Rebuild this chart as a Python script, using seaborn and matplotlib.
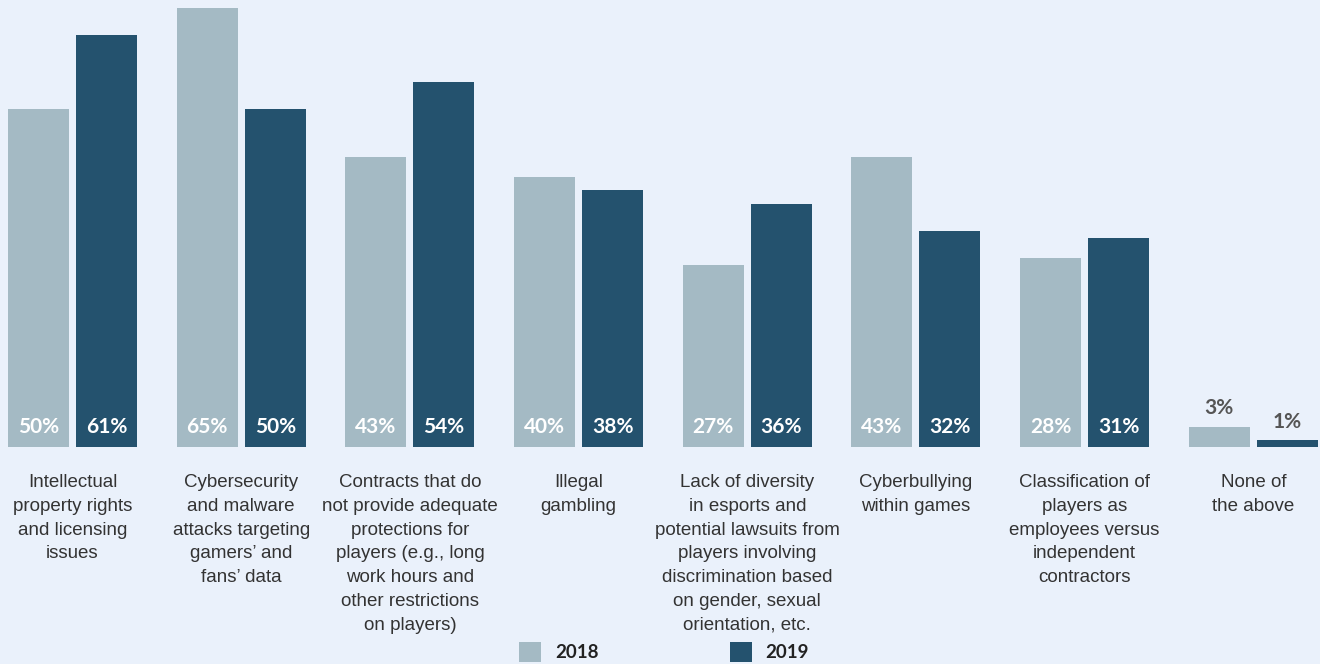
import pandas as pd
import matplotlib.pyplot as plt
import seaborn as sns
from matplotlib.patches import Patch

# Chart data
categories = [
    "Intellectual\nproperty rights\nand licensing\nissues",
    "Cybersecurity\nand malware\nattacks targeting\ngamers’ and\nfans’ data",
    "Contracts that do\nnot provide adequate\nprotections for\nplayers (e.g., long\nwork hours and\nother restrictions\non players)",
    "Illegal\ngambling",
    "Lack of diversity\nin esports and\npotential lawsuits from\nplayers involving\ndiscrimination based\non gender, sexual\norientation, etc.",
    "Cyberbullying\nwithin games",
    "Classification of\nplayers as\nemployees versus\nindependent\ncontractors",
    "None of\nthe above",
]
years = ["2018", "2019"]
values_2018 = [50, 65, 43, 40, 27, 43, 28, 3]
values_2019 = [61, 50, 54, 38, 36, 32, 31, 1]

# Colours
bg = "#EAF1FB"
colors = {"2018": "#A4BAC4", "2019": "#24526E"}
text_color = "#333333"

df = pd.DataFrame({
    "category": categories * 2,
    "year": ["2018"] * len(categories) + ["2019"] * len(categories),
    "value": values_2018 + values_2019,
})

sns.set_style("white")
plt.rcParams["font.family"] = ["Liberation Sans", "DejaVu Sans"]

fig = plt.figure(figsize=(13.2, 6.64), dpi=100, facecolor=bg)
ax = fig.add_axes([0, 1 - 447 / 664, 1, 447 / 664])
ax.set_facecolor(bg)

sns.barplot(data=df, x="category", y="value", hue="year", palette=colors,
            hue_order=years, width=0.806, gap=0.103, saturation=1,
            linewidth=0, edgecolor="none", legend=False, ax=ax)

ax.set_xlim(-0.4298, 7.395)
ax.set_ylim(0, 66.18)
for s in ax.spines.values():
    s.set_visible(False)
ax.set_yticks([])
ax.set_xlabel("")
ax.set_ylabel("")
ax.tick_params(axis="x", length=0, pad=19.5)
for lbl in ax.get_xticklabels():
    lbl.set_fontsize(13.5)
    lbl.set_color(text_color)
    lbl.set_linespacing(1.52)
    lbl.set_verticalalignment("top")

# Value labels
for container, vals in zip(ax.containers, [values_2018, values_2019]):
    for bar, v in zip(container, vals):
        cx = bar.get_x() + bar.get_width() / 2
        if v >= 10:
            ax.text(cx, 3.0, f"{v}%", ha="center", va="center", color="white",
                    fontsize=15, fontweight="bold", family=["Lato", "DejaVu Sans"])
        else:
            ax.annotate(f"{v}%", (cx, v), xytext=(0, 6), textcoords="offset points",
                        ha="center", va="bottom", color="#555555", fontsize=15,
                        fontweight="bold", family=["Lato", "DejaVu Sans"])

# Legend
handles = [Patch(facecolor=colors[y], edgecolor="none", label=y) for y in years]
leg = fig.legend(handles=handles, loc="center", bbox_to_anchor=(0.503, 0.018),
                 ncol=2, frameon=False, handlelength=1.17, handleheight=1.28,
                 handletextpad=0.72, columnspacing=7.0,
                 prop={"family": ["Lato", "DejaVu Sans"], "weight": "bold", "size": 13.5})
for t in leg.get_texts():
    t.set_color("#222222")

fig.savefig("out.png", dpi=100, facecolor=bg)
